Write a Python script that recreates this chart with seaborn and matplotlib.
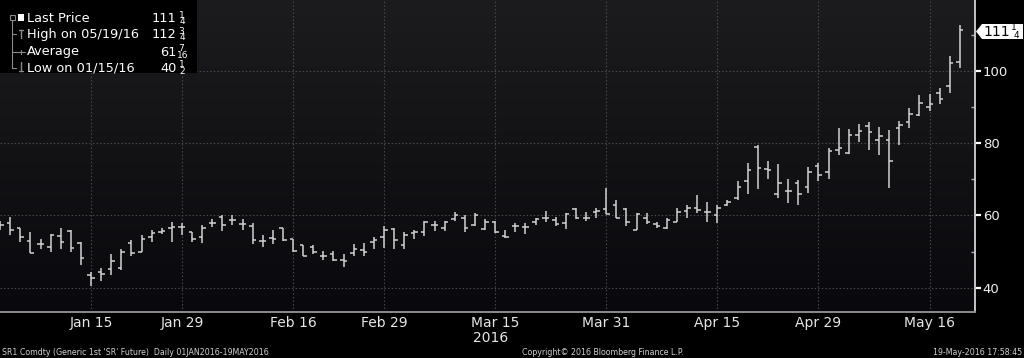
import numpy as np
import pandas as pd
import matplotlib
matplotlib.use("Agg")
import matplotlib.pyplot as plt
import seaborn as sns
from matplotlib.colors import LinearSegmentedColormap
from matplotlib.patches import Rectangle, Polygon

# SR1 Comdty daily bars, 04JAN2016 - 19MAY2016 (one value per trading day)
opens = [57.3, 58.0, 56.4, 53.0, 52.1, 51.4, 54.3, 55.6, 52.5, 43.4,
         44.5, 45.2, 45.5, 52.3, 50.0, 54.0, 55.5, 56.6, 56.8, 55.5,
         54.1, 58.0, 59.5, 58.8, 57.7, 57.2, 52.9, 53.8, 56.5, 53.4,
         51.7, 51.2, 48.8, 49.4, 47.6, 49.7, 50.5, 52.8, 54.0, 56.3,
         51.7, 55.1, 55.4, 57.5, 56.6, 59.1, 59.4, 57.5, 56.3, 58.3,
         54.2, 57.0, 56.8, 58.3, 59.4, 58.8, 57.9, 61.8, 59.4, 60.9,
         61.8, 62.9, 61.8, 56.0, 59.4, 57.6, 56.5, 58.3, 61.3, 62.0,
         60.9, 60.0, 62.9, 64.7, 69.5, 78.9, 72.8, 65.9, 66.8, 69.1,
         67.9, 73.8, 71.9, 78.0, 77.4, 82.3, 84.7, 80.9, 80.9, 84.2,
         85.8, 87.7, 90.0, 94.0, 95.8, 102.5]
highs = [58.6, 59.7, 56.6, 55.3, 53.4, 54.8, 56.4, 55.9, 52.7, 44.5,
         45.5, 49.4, 50.6, 53.2, 54.5, 56.1, 56.4, 58.2, 58.0, 55.5,
         57.3, 59.1, 60.0, 60.0, 59.1, 58.0, 54.5, 56.0, 56.6, 53.5,
         51.9, 51.9, 50.3, 50.3, 49.4, 52.0, 52.4, 54.0, 57.2, 56.6,
         55.4, 56.0, 58.4, 58.6, 58.4, 60.9, 60.0, 60.6, 59.1, 58.6,
         56.0, 57.9, 57.9, 59.4, 61.1, 59.7, 60.6, 62.0, 60.9, 62.2,
         67.6, 64.3, 62.2, 60.6, 60.6, 58.3, 59.3, 62.0, 62.8, 65.7,
         63.7, 62.8, 64.3, 69.5, 74.4, 79.5, 75.1, 74.2, 70.2, 69.8,
         73.3, 74.4, 78.6, 84.2, 84.0, 85.3, 85.8, 84.5, 83.7, 86.0,
         89.8, 93.2, 93.5, 95.3, 104.0, 112.75]
lows = [55.9, 54.5, 52.7, 49.5, 50.6, 50.0, 50.6, 49.8, 46.2, 40.5,
        41.8, 43.6, 44.8, 48.8, 50.0, 52.7, 54.8, 52.7, 54.5, 52.7,
        52.3, 56.8, 55.7, 57.3, 56.1, 52.2, 51.2, 52.2, 52.9, 49.9,
        48.7, 49.4, 47.6, 47.4, 45.7, 48.7, 48.7, 50.8, 51.1, 50.8,
        50.8, 53.5, 54.2, 55.7, 55.7, 58.6, 55.4, 57.0, 55.9, 55.1,
        53.7, 55.4, 54.8, 57.4, 58.3, 57.0, 56.3, 59.1, 58.5, 59.4,
        60.4, 59.3, 57.2, 56.0, 57.6, 56.5, 56.3, 58.2, 59.4, 60.6,
        58.3, 57.9, 62.5, 64.3, 66.0, 67.4, 70.0, 64.7, 63.4, 62.8,
        66.2, 69.6, 70.0, 76.6, 77.0, 80.2, 78.0, 76.7, 67.7, 79.5,
        84.2, 87.4, 88.8, 90.9, 94.0, 100.9]
closes = [57.3, 56.1, 54.1, 49.5, 52.1, 54.5, 52.7, 50.9, 48.2, 42.7,
          43.9, 47.5, 50.0, 49.7, 53.5, 55.2, 55.7, 56.8, 56.8, 53.6,
          56.4, 58.0, 57.5, 58.8, 57.7, 53.3, 52.9, 53.5, 53.3, 50.3,
          48.9, 49.9, 48.8, 47.8, 47.4, 50.8, 50.0, 53.3, 55.9, 53.3,
          54.7, 55.4, 58.2, 57.5, 58.2, 60.0, 56.6, 60.0, 58.2, 55.4,
          54.0, 57.0, 56.8, 59.0, 59.4, 57.6, 60.4, 59.4, 59.4, 61.1,
          60.4, 59.4, 58.2, 60.4, 58.2, 57.2, 58.8, 60.9, 62.2, 61.6,
          60.9, 62.2, 63.7, 68.0, 72.6, 73.0, 72.6, 69.1, 66.8, 66.0,
          71.9, 71.2, 77.9, 78.6, 82.3, 83.4, 83.0, 82.0, 75.2, 84.9,
          88.1, 91.2, 90.7, 92.3, 102.1, 111.25]

holidays = ["2016-01-18", "2016-02-15", "2016-03-25"]
label_dates = ["2016-01-15", "2016-01-29", "2016-02-16", "2016-02-29", "2016-03-15",
               "2016-03-31", "2016-04-15", "2016-04-29", "2016-05-16"]
minor_dates = ["2016-01-07", "2016-01-22", "2016-02-08", "2016-02-22", "2016-03-08",
               "2016-03-23", "2016-04-08", "2016-04-22", "2016-05-09"]
y_major = [40, 60, 80, 100]
y_minor = [50, 70, 90, 110]

legend_rows = [("Last Price", "111", "1", "4"),
               ("High on 05/19/16", "112", "3", "4"),
               ("Average", "61", "7", "16"),
               ("Low on 01/15/16", "40", "1", "2")]
last_price = ("111", "1", "4")

days = pd.bdate_range("2016-01-04", "2016-05-19")
days = days[~days.isin(pd.to_datetime(holidays))]
df = pd.DataFrame({"date": days, "open": opens, "high": highs,
                   "low": lows, "close": closes})
df["x"] = np.arange(len(df))
pos = {d: i for i, d in enumerate(df["date"])}
major_x = [pos[pd.Timestamp(d)] for d in label_dates]
minor_x = [pos[pd.Timestamp(d)] for d in minor_dates]
major_lab = [pd.Timestamp(d).strftime("%b %d").replace(" 0", " ") for d in label_dates]

sns.set_theme(style="dark")
plt.rcParams["font.family"] = ["DejaVu Sans"]

W, H = 1024, 358
fig = plt.figure(figsize=(W / 100, H / 100), dpi=100, facecolor="black")
ax = fig.add_axes([0, 46 / H, 975 / W, 312 / H])

# dark gradient panel
grad = np.linspace(0, 1, 256).reshape(-1, 1)
bg = LinearSegmentedColormap.from_list("bg", ["#1c1c1f", "#09090d"])
ax.imshow(grad, aspect="auto", cmap=bg, extent=[0, 1, 0, 1],
          transform=ax.transAxes, zorder=0)

bar_c = "#d2d2d2"
ax.vlines(df["x"], df["low"], df["high"], color=bar_c, lw=1.1, zorder=3)
ax.hlines(df["open"], df["x"] - 0.35, df["x"], color=bar_c, lw=1.1, zorder=3)
ax.hlines(df["close"], df["x"], df["x"] + 0.35, color=bar_c, lw=1.1, zorder=3)

ax.set_xlim(-0.01, 96.5)
ax.set_ylim(33.3, 119.6)

ax.set_xticks(major_x)
ax.set_xticklabels(major_lab)
ax.set_xticks(minor_x, minor=True)
ax.yaxis.tick_right()
ax.set_yticks(y_major)
ax.set_yticks(y_minor, minor=True)

for v in major_x:
    ax.axvline(v, color="#4e4e52", lw=0.8, ls=(0, (1.2, 2)), zorder=1)
for v in y_major:
    ax.axhline(v, color="#4e4e52", lw=0.8, ls=(0, (1.2, 2)), zorder=1)
ax.grid(False)

ax.tick_params(axis="x", which="both", direction="in", length=3, width=1,
               color="#9a9a9a", labelcolor="#e6e6e6", labelsize=10, pad=3)
ax.tick_params(axis="y", which="major", direction="out", length=4, width=1.6,
               color="white", labelcolor="#f0f0f0", labelsize=9.5, pad=1.5)
ax.tick_params(axis="y", which="minor", direction="in", length=3, width=1,
               color="#b0b0b0")

for s in ["top", "left"]:
    ax.spines[s].set_visible(False)
ax.spines["right"].set_color("#c4c4c4")
ax.spines["right"].set_linewidth(1.4)
ax.spines["bottom"].set_color("#8c8c8c")
ax.spines["bottom"].set_linewidth(1.4)

# overlay in pixel coordinates for legend box, tags and footer
ov = fig.add_axes([0, 0, 1, 1])
ov.set_xlim(0, W)
ov.set_ylim(H, 0)
ov.axis("off")
ov.patch.set_alpha(0)

ov.add_patch(Rectangle((0, 0), 197, 73, facecolor="black", edgecolor="none", zorder=5))
gc = "#8a8a8a"
ov.plot([12, 12], [20, 68], color=gc, lw=0.8, zorder=6)
for yy in [34, 52, 68]:
    ov.plot([12, 16], [yy, yy], color=gc, lw=0.8, zorder=6)
ov.add_patch(Rectangle((9.5, 14.5), 5, 5, facecolor="none", edgecolor=gc, lw=0.8, zorder=6))
ov.add_patch(Rectangle((17.5, 14), 6.5, 6.5, facecolor="white", edgecolor="none", zorder=6))
ov.plot([18.5, 23], [30, 30], color=gc, lw=1, zorder=6)
ov.plot([20.7, 20.7], [30, 38], color=gc, lw=1, zorder=6)
ov.plot([15, 25], [52, 52], color=gc, lw=0.8, zorder=6)
ov.plot([20.5, 20.5], [50, 54], color=gc, lw=0.8, zorder=6)
ov.plot([20.7, 20.7], [62, 70.5], color=gc, lw=1, zorder=6)
ov.plot([18.5, 23], [70.5, 70.5], color=gc, lw=1, zorder=6)

row_y = [18.5, 34.5, 52, 68]
for (name, whole, num, den), yy in zip(legend_rows, row_y):
    ov.text(27, yy, name, color="white", fontsize=9.3, va="center", ha="left", zorder=7)
    ov.text(176.5, yy, whole, color="white", fontsize=9.3, va="center", ha="right", zorder=7)
    ov.text(181.5, yy - 3.5, num, color="white", fontsize=6.5, va="center", ha="center", zorder=7)
    ov.text(182.5, yy + 3.5, den, color="white", fontsize=6.5, va="center", ha="center", zorder=7)

# last price tag on the right axis
ov.add_patch(Polygon([(976, 31.5), (982, 24), (1023, 24), (1023, 39), (982, 39)],
                     closed=True, facecolor="white", edgecolor="none", zorder=7))
ov.text(983, 31.5, last_price[0], color="black", fontsize=10, va="center", ha="left", zorder=8)
ov.text(1013.5, 28, last_price[1], color="black", fontsize=6.5, va="center", ha="center", zorder=8)
ov.text(1016.5, 35, last_price[2], color="black", fontsize=6.5, va="center", ha="center", zorder=8)

# year under the first March label
ov.text(473, 338, "2016", color="#e6e6e6", fontsize=10, va="center", ha="left")

fc = "#cfcfcf"
ov.text(2, 352.5, "SR1 Comdty (Generic 1st 'SR' Future)  Daily 01JAN2016-19MAY2016",
        color=fc, fontsize=5.7, va="center", ha="left")
ov.text(522, 352.5, "Copyright\u00a9 2016 Bloomberg Finance L.P.",
        color=fc, fontsize=5.7, va="center", ha="left")
ov.text(1022, 352.5, "19-May-2016 17:58:45", color=fc, fontsize=5.7, va="center", ha="right")

fig.savefig("out.png", dpi=100, facecolor="black")
